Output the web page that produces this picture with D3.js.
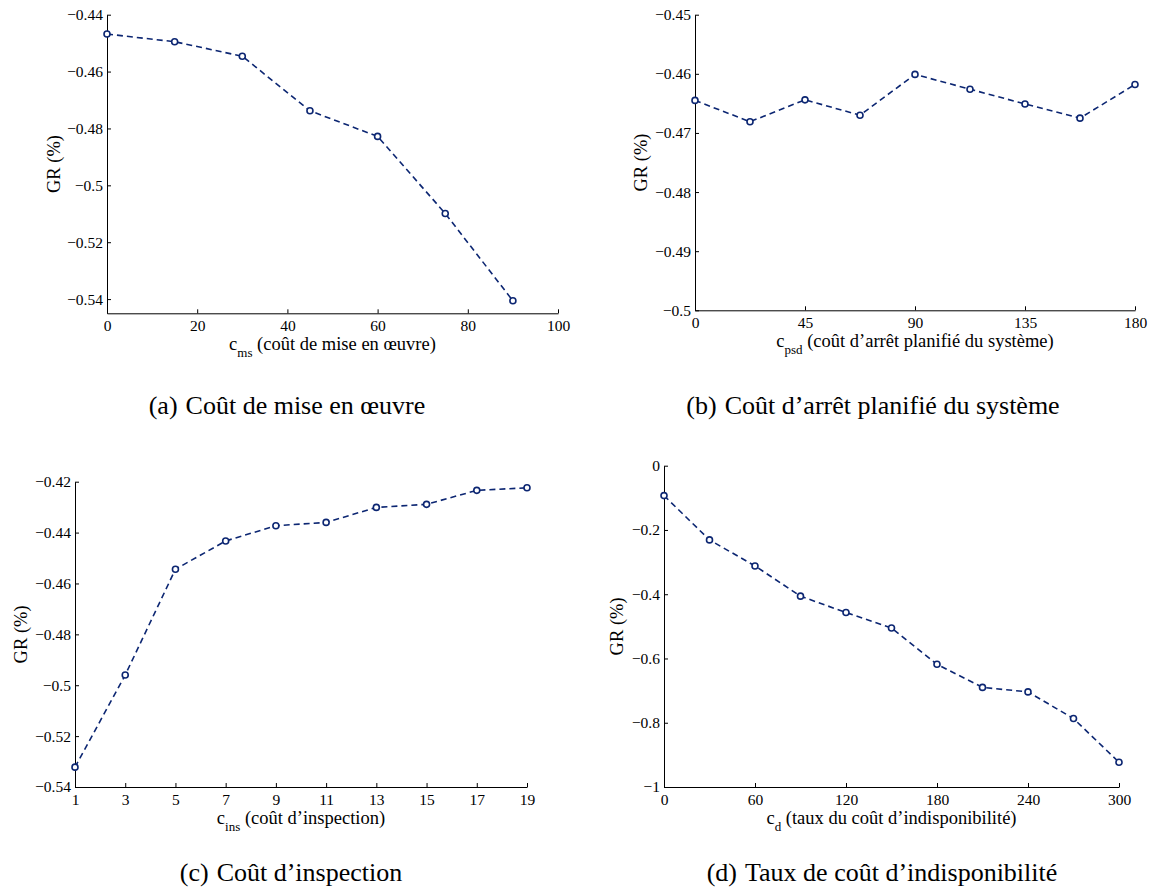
<!DOCTYPE html>
<html><head><meta charset="utf-8">
<script src="https://cdn.jsdelivr.net/npm/d3@7"></script>
<style>
body{margin:0;background:#fff;}
svg text{font-family:"Liberation Serif","Times New Roman",serif;fill:#000;}
</style></head>
<body><svg id="c" width="1154" height="889"></svg>
<script>
// ---- data ----
const aX = [0, 15, 30, 45, 60, 75, 90];
const aY = [-0.4468, -0.4495, -0.4546, -0.4738, -0.4828, -0.5099, -0.5406];
const aXTicks = [0, 20, 40, 60, 80, 100];
const aYTicks = [-0.54, -0.52, -0.5, -0.48, -0.46, -0.44];

const bX = [0, 22.5, 45, 67.5, 90, 112.5, 135, 157.5, 180];
const bY = [-0.4645, -0.4681, -0.4644, -0.4670, -0.4601, -0.4626, -0.4651, -0.4675, -0.4618];
const bXTicks = [0, 45, 90, 135, 180];
const bYTicks = [-0.5, -0.49, -0.48, -0.47, -0.46, -0.45];

const cX = [1, 3, 5, 7, 9, 11, 13, 15, 17, 19];
const cY = [-0.5322, -0.4960, -0.4544, -0.4433, -0.4373, -0.4360, -0.4301, -0.4289, -0.4234, -0.4224];
const cXTicks = [1, 3, 5, 7, 9, 11, 13, 15, 17, 19];
const cYTicks = [-0.54, -0.52, -0.5, -0.48, -0.46, -0.44, -0.42];

const dX = [0, 30, 60, 90, 120, 150, 180, 210, 240, 270, 300];
const dY = [-0.093, -0.231, -0.312, -0.406, -0.457, -0.505, -0.618, -0.690, -0.704, -0.787, -0.923];
const dXTicks = [0, 60, 120, 180, 240, 300];
const dYTicks = [-1, -0.8, -0.6, -0.4, -0.2, 0];

const panels = [
  {x: aX, y: aY, xt: aXTicks, yt: aYTicks, xd: [0, 100], yd: [-0.545, -0.44],
   sym: "c", sub: "ms", label: " (coût de mise en œuvre)", caption: "Coût de mise en œuvre", tag: "(a)",
   box: [107, 558, 14.7, 313.3], ylOff: 53, cap: [287, 414]},
  {x: bX, y: bY, xt: bXTicks, yt: bYTicks, xd: [0, 180], yd: [-0.5, -0.45],
   sym: "c", sub: "psd", label: " (coût d’arrêt planifié du système)", caption: "Coût d’arrêt planifié du système", tag: "(b)",
   box: [695, 1135, 14.7, 310.3], ylOff: 54, cap: [873, 414]},
  {x: cX, y: cY, xt: cXTicks, yt: cYTicks, xd: [1, 19], yd: [-0.54, -0.42],
   sym: "c", sub: "ins", label: " (coût d’inspection)", caption: "Coût d’inspection", tag: "(c)",
   box: [75, 527, 481.7, 787], ylOff: 54, cap: [291, 881]},
  {x: dX, y: dY, xt: dXTicks, yt: dYTicks, xd: [0, 300], yd: [-1, 0],
   sym: "c", sub: "d", label: " (taux du coût d’indisponibilité)", caption: "Taux de coût d’indisponibilité", tag: "(d)",
   box: [664, 1119, 465.7, 787], ylOff: 47, cap: [882, 881]}
];

const fmt = v => { const s = String(+(+v).toFixed(4)); return s.replace("-", "\u2212"); };
const color = "#0c2672";
const svg = d3.select("#c");

panels.forEach(p => {
  const [L, R, T, B] = p.box;
  const xs = d3.scaleLinear().domain(p.xd).range([L, R]);
  const ys = d3.scaleLinear().domain(p.yd).range([B, T]);
  const g = svg.append("g");

  const xa = g.append("g").attr("transform", `translate(0,${B})`)
    .call(d3.axisBottom(xs).tickValues(p.xt).tickFormat(fmt).tickSizeInner(-4).tickSizeOuter(0).tickPadding(7));
  const ya = g.append("g").attr("transform", `translate(${L},0)`)
    .call(d3.axisLeft(ys).tickValues(p.yt).tickFormat(fmt).tickSizeInner(-4).tickSizeOuter(0).tickPadding(4));
  [xa, ya].forEach(a => {
    a.attr("font-family", null).attr("font-size", null);
    a.selectAll("text").style("font-size", "15.5px");
    a.select(".domain").attr("stroke", "#000").attr("stroke-width", 1);
    a.selectAll(".tick line").attr("stroke", "#000");
  });

  const line = d3.line().x((d, i) => xs(p.x[i])).y(d => ys(d));
  g.append("path").datum(p.y).attr("d", line).attr("fill", "none")
    .attr("stroke", color).attr("stroke-width", 1.6).attr("stroke-dasharray", "6,4");
  g.selectAll("circle").data(p.y).join("circle")
    .attr("cx", (d, i) => xs(p.x[i])).attr("cy", d => ys(d)).attr("r", 3)
    .attr("fill", "#fff").attr("stroke", color).attr("stroke-width", 1.6);

  // x label
  const xl = g.append("text").attr("x", (L + R) / 2).attr("y", B + 37)
    .attr("text-anchor", "middle").style("font-size", "18.5px");
  xl.append("tspan").text(p.sym);
  xl.append("tspan").text(p.sub).attr("dy", 7).style("font-size", "13px");
  xl.append("tspan").text(p.label).attr("dy", -7);

  // y label
  g.append("text").attr("transform", `translate(${L - p.ylOff},${(T + B) / 2}) rotate(-90)`)
    .attr("text-anchor", "middle").attr("dy", "0.35em").style("font-size", "18.5px").text("GR (%)");

  // caption
  const cp = g.append("text").attr("x", p.cap[0]).attr("y", p.cap[1])
    .attr("text-anchor", "middle").style("font-size", "26px");
  cp.append("tspan").text(p.tag);
  cp.append("tspan").attr("dx", 8).text(p.caption);
});
</script></body></html>
